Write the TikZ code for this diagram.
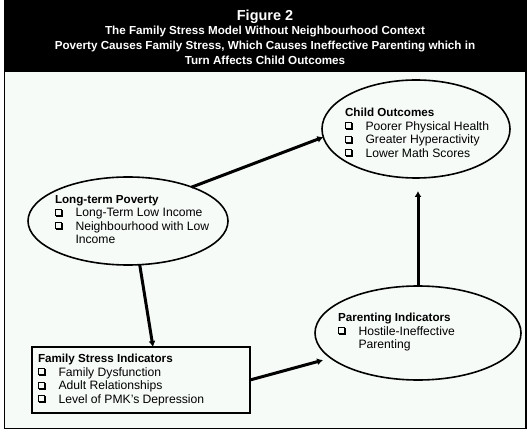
\documentclass[tikz,border=0pt]{standalone}
\usepackage{fontspec}
\setmainfont{Liberation Sans}
\usetikzlibrary{arrows.meta,shapes.geometric,calc}
\definecolor{bgmint}{HTML}{F6FBF8}
\newcommand{\cbx}{\makebox[20.5bp][l]{\tikz[x=1bp,y=1bp,baseline=0pt]{\draw[line width=1bp] (0.5,1.5) rectangle (6.5,7.5); \fill (1,0) rectangle (8,1); \fill (7,0) rectangle (8,7);}}}
\newcommand{\ind}{\hspace*{20.5bp}}
\begin{document}
\begin{tikzpicture}[x=1bp,y=-1bp,
  every node/.style={inner sep=0pt, outer sep=0pt},
  oval/.style={draw, line width=1.6bp, ellipse},
  link/.style={line width=3bp, -{Latex[length=6bp,width=7bp]}},
  hd/.style={font=\bfseries\fontsize{11.7}{13.5}\selectfont, text=white, anchor=base},
  hdbig/.style={font=\bfseries\fontsize{14.5}{16}\selectfont, text=white, anchor=base},
  body/.style={font=\fontsize{12.2}{13.5}\selectfont, align=left, anchor=north west},
]
\useasboundingbox (0,0) rectangle (530,434);
\fill[white] (0,0) rectangle (530,434);
\fill[bgmint] (4.5,0) rectangle (526,428.5);
\fill[black] (3.6,0) rectangle (526.9,72);
\draw[line width=1.8bp] (4.5,0) -- (4.5,428.5) -- (526,428.5) -- (526,0);

\node[hdbig] (t1) at (265,20.3) {Figure 2};
\node[hd] (t2) at (265,34.3) {The Family Stress Model Without Neighbourhood Context};
\node[hd] (t3) at (265,49.8) {Poverty Causes Family Stress, Which Causes Ineffective Parenting which in};
\node[hd] (t4) at (265,64.8) {Turn Affects Child Outcomes};

% shapes
\node[oval, minimum width=188bp, minimum height=98bp] (child) at (416,129) {};
\node[oval, minimum width=200bp, minimum height=88bp] (pov) at (128,221) {};
\node[oval, minimum width=206bp, minimum height=94bp] (par) at (418,333) {};
\node[draw, line width=1.6bp, minimum width=218bp, minimum height=66bp] (fam) at (141,380) {};

% texts
\node[body] (childtxt) at (345,108.5) {{\bfseries\fontsize{11.7}{13.5}\selectfont Child Outcomes}\\
\cbx Poorer Physical Health\\
\cbx Greater Hyperactivity\\
\cbx Lower Math Scores};
\node[body] (povtxt) at (55,195.5) {{\bfseries\fontsize{11.7}{13.5}\selectfont Long-term Poverty}\\
\cbx Long-Term Low Income\\
\cbx Neighbourhood with Low\\
\ind Income};
\node[body] (famtxt) at (38,354.5) {{\bfseries\fontsize{11.7}{13.5}\selectfont Family Stress Indicators}\\
\cbx Family Dysfunction\\
\cbx Adult Relationships\\
\cbx Level of PMK’s Depression};
\node[body] (partxt) at (338,313.5) {{\bfseries\fontsize{11.7}{13.5}\selectfont Parenting Indicators}\\
\cbx Hostile-Ineffective\\
\ind Parenting};

% connectors
\draw[link] (pov.28) -- (child.185);
\draw[link] (pov.-75) -- ([xshift=12bp]fam.north);
\draw[link, shorten >=8bp] (fam.east) -- (par.196);
\draw[link, shorten >=13bp] (par.north) -- (par.north |- child.south);
\end{tikzpicture}
\end{document}
